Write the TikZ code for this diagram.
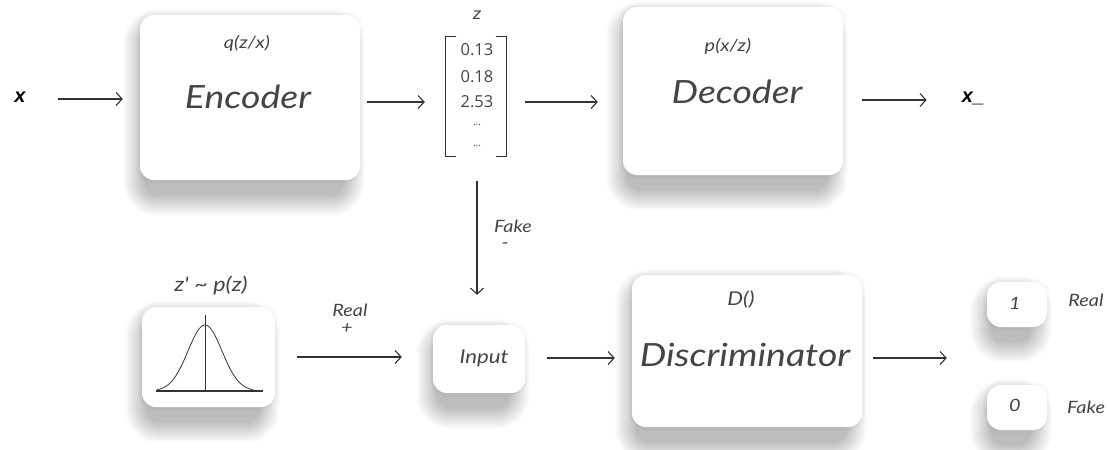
\documentclass[tikz,border=0pt]{standalone}
\usepackage{fontspec}
\usetikzlibrary{arrows.meta,backgrounds}
\newfontfamily\handfont{Lato}[FakeStretch=1.17]
\newfontfamily\numfont{Open Sans}
\newfontfamily\varfont{Liberation Sans}
\definecolor{ink}{HTML}{454545}
\definecolor{ink2}{HTML}{333333}
\tikzset{
  box/.style={draw=none, fill=white, rounded corners=14pt, inner sep=0pt},
  hand/.style={font=\handfont\itshape\fontsize{17}{19}\selectfont, text=ink, inner sep=0pt},
  big/.style={hand, font=\handfont\itshape\fontsize{32}{34}\selectfont},
  num/.style={font=\numfont\fontsize{16.5}{18}\selectfont, text=ink, inner sep=0pt},
  var/.style={font=\varfont\bfseries\itshape\fontsize{20}{22}\selectfont, text=black, inner sep=0pt},
  arr/.style={-{Straight Barb[length=6pt,width=13pt,line width=1.1pt]}, line width=1.1pt, draw=ink2},
}
% soft drop shadow under a box: stacked translucent layers, offset down and to the left
\newcommand\softshadow[1]{%
  \foreach \k [evaluate=\k as \r using 14+\k] in {0,...,21}{%
    \fill[black, opacity=0.011, rounded corners=\r pt]
      ([xshift=4pt-\k pt, yshift=-15pt+\k pt]#1.north west) rectangle
      ([xshift=-16pt+\k pt, yshift=-15pt-\k pt]#1.south east);}%
  \foreach \k [evaluate=\k as \r using 14+\k] in {1,...,4}{%
    \fill[black, opacity=0.008, rounded corners=\r pt]
      ([xshift=-\k pt, yshift=\k pt]#1.north west) rectangle
      ([xshift=\k pt, yshift=-\k pt]#1.south east);}%
}
\begin{document}
\begin{tikzpicture}[x=1pt,y=-1pt]
\useasboundingbox (0,0) rectangle (1109,450);

% boxes
\node[box, minimum width=220pt, minimum height=165pt] (enc) at (250,97.5) {};
\node[box, minimum width=220pt, minimum height=168pt] (dec) at (733,91) {};
\node[box, minimum width=133pt, minimum height=100pt] (gau) at (208.5,357) {};
\node[box, minimum width=92pt, minimum height=68pt] (inp) at (479,359) {};
\node[box, minimum width=230pt, minimum height=152pt] (dis) at (747,351) {};
\node[box, minimum width=60pt, minimum height=45pt] (one) at (1017,304.5) {};
\node[box, minimum width=60pt, minimum height=45pt] (zero) at (1017,407.5) {};

\begin{pgfonlayer}{background}
  \fill[white] (0,0) rectangle (1109,450);
  \softshadow{enc}
  \softshadow{dec}
  \softshadow{gau}
  \softshadow{inp}
  \softshadow{dis}
  \softshadow{one}
  \softshadow{zero}
\end{pgfonlayer}

% box texts
\node[big] (enct) at (248,97) {Encoder};
\node[hand] (qzx) at (247,43) {q(z/x)};
\node[big] (dect) at (737,92) {Decoder};
\node[hand] (pxz) at (728,46) {p(x/z)};
\node[big] (dist) at (745,355) {Discriminator};
\node[hand, font=\handfont\itshape\fontsize{19}{21}\selectfont] (dlab) at (741,300) {D()};
\node[hand, font=\handfont\itshape\fontsize{19}{21}\selectfont] (inpt) at (484,358) {Input};
\node[hand] (onet) at (1015,303) {1};
\node[hand] (zerot) at (1015,405) {0};
\node[hand] (realo) at (1086,300) {Real};
\node[hand] (fakeo) at (1086,407) {Fake};
\node[hand, font=\handfont\itshape\fontsize{20}{22}\selectfont] (prior) at (211,285) {z' \textasciitilde\ p(z)};

% input and output variables
\node[var] (xin) at (20,97) {x};
\node[var] (xout) at (973,98) {x\_};

% latent vector z
\node[hand] (zlab) at (477,15) {z};
\node[inner sep=0pt, minimum width=61pt, minimum height=119pt] (zvec) at (476,96.5) {};
\draw[ink2, line width=1.1pt] ([xshift=11pt]zvec.north west) -- (zvec.north west) -- (zvec.south west) -- ([xshift=11pt]zvec.south west);
\draw[ink2, line width=1.1pt] ([xshift=-11pt]zvec.north east) -- (zvec.north east) -- (zvec.south east) -- ([xshift=-11pt]zvec.south east);
\node[num] (z1) at (477,50) {0.13};
\node[num] (z2) at (477,77) {0.18};
\node[num] (z3) at (477,102) {2.53};
\node[num, font=\numfont\fontsize{10}{12}\selectfont] (z4) at (477,125) {...};
\node[num, font=\numfont\fontsize{10}{12}\selectfont] (z5) at (477,146) {...};

% standard normal sketch
\draw[ink2, line width=1.5pt] ([xshift=-53pt,yshift=-34pt]gau.center) -- ([xshift=54pt,yshift=-34pt]gau.center);
\draw[ink2, line width=1.5pt] ([xshift=-3pt,yshift=-34pt]gau.center) -- ([xshift=-3pt,yshift=42pt]gau.center);
\draw[ink2, line width=0.8pt] plot[domain=157:253, samples=80] (\x, {391 - 66*exp(-((\x-205)*(\x-205))/(2*17*17))});

% connectors
\draw[arr, shorten <=32pt, shorten >=17pt] ([yshift=-2pt]xin.east) -- ([yshift=-2pt]xin.east -| enc.west);
\draw[arr, shorten <=7pt, shorten >=20.5pt] ([yshift=-4.5pt]enc.east) -- ([yshift=-4.5pt]enc.east -| zvec.west);
\draw[arr, shorten <=18.5pt, shorten >=25pt] ([yshift=-5.5pt]zvec.east) -- ([yshift=-5.5pt]zvec.east -| dec.west);
\draw[arr, shorten <=19pt, shorten >=35pt] ([yshift=-9pt]dec.east) -- ([yshift=-9pt]dec.east -| xout.west);
\draw[arr, shorten <=25pt, shorten >=30pt] ([xshift=1pt]zvec.south) -- ([xshift=1pt]zvec.south |- inp.north);
\draw[arr, shorten <=22pt, shorten >=31pt] (gau.east) -- (gau.east -| inp.west);
\draw[arr, shorten <=22pt, shorten >=17pt] ([yshift=1pt]inp.east) -- ([yshift=1pt]inp.east -| dis.west);
\draw[arr, shorten <=11pt, shorten >=40pt] ([yshift=-7pt]dis.east) -- ([yshift=-7pt]dis.east -| one.west);

% connector labels
\node[hand] (fakel) at (513,226) {Fake};
\node[hand] (fakem) at (505,246) {-};
\node[hand] (reall) at (350,310) {Real};
\node[hand] (realp) at (347,329) {+};
\end{tikzpicture}
\end{document}
